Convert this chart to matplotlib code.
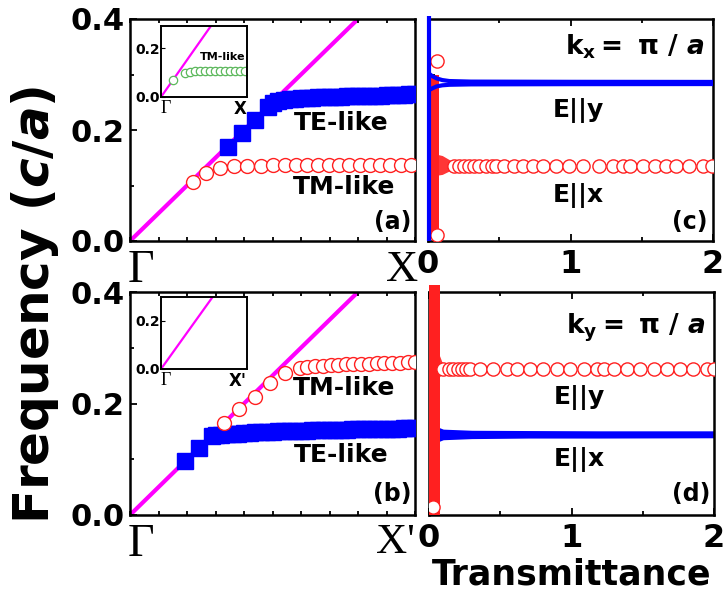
import matplotlib
matplotlib.use('Agg')
import matplotlib.pyplot as plt
from matplotlib.ticker import MultipleLocator, FixedLocator, NullFormatter

# ---- data ----
# band structures: k in units of 2pi/a (Gamma = 0, X = 0.5), f in c/a
light_k = [0.0, 0.5]
light_f = [0.0, 0.5]

a_tm_k = [0.110, 0.134, 0.158, 0.182, 0.206, 0.229, 0.251, 0.272, 0.292, 0.311,
          0.330, 0.349, 0.367, 0.385, 0.403, 0.421, 0.439, 0.457, 0.475, 0.493]
a_tm_f = [0.106, 0.123, 0.132, 0.135, 0.136, 0.136, 0.137, 0.137, 0.137, 0.137,
          0.137, 0.137, 0.137, 0.137, 0.137, 0.137, 0.137, 0.137, 0.137, 0.137]

a_te_k = [0.172, 0.196, 0.219, 0.242, 0.250, 0.260, 0.270, 0.280, 0.290, 0.300,
          0.310, 0.320, 0.330, 0.340, 0.350, 0.360, 0.370, 0.380, 0.390, 0.400,
          0.410, 0.420, 0.430, 0.440, 0.450, 0.460, 0.470, 0.480, 0.490, 0.500]
a_te_f = [0.169, 0.194, 0.218, 0.241, 0.249, 0.252, 0.254, 0.255, 0.256, 0.257,
          0.258, 0.258, 0.259, 0.259, 0.260, 0.260, 0.260, 0.261, 0.261, 0.261,
          0.262, 0.262, 0.262, 0.262, 0.263, 0.263, 0.263, 0.263, 0.264, 0.264]

ins_a_k = [0.072, 0.140, 0.169, 0.198, 0.227, 0.256, 0.285, 0.314, 0.343, 0.372,
           0.401, 0.430, 0.459, 0.488]
ins_a_f = [0.068, 0.100, 0.104, 0.106, 0.107, 0.107, 0.108, 0.108, 0.108, 0.108,
           0.108, 0.108, 0.108, 0.108]

b_te_k = [0.097, 0.121, 0.144, 0.150, 0.160, 0.170, 0.180, 0.190, 0.200, 0.210,
          0.220, 0.230, 0.240, 0.250, 0.260, 0.270, 0.280, 0.290, 0.300, 0.310,
          0.320, 0.330, 0.340, 0.350, 0.360, 0.370, 0.380, 0.390, 0.400, 0.410,
          0.420, 0.430, 0.440, 0.450, 0.460, 0.470, 0.480, 0.490, 0.500]
b_te_f = [0.096, 0.120, 0.142, 0.143, 0.144, 0.145, 0.146, 0.146, 0.147, 0.147,
          0.148, 0.148, 0.149, 0.149, 0.150, 0.150, 0.150, 0.151, 0.151, 0.151,
          0.152, 0.152, 0.152, 0.153, 0.153, 0.153, 0.153, 0.154, 0.154, 0.154,
          0.154, 0.155, 0.155, 0.155, 0.155, 0.155, 0.156, 0.156, 0.156]

b_tm_k = [0.165, 0.192, 0.219, 0.246, 0.272, 0.298, 0.311, 0.325, 0.338, 0.352,
          0.365, 0.379, 0.392, 0.406, 0.419, 0.433, 0.446, 0.460, 0.473, 0.487, 0.500]
b_tm_f = [0.165, 0.190, 0.212, 0.237, 0.255, 0.264, 0.266, 0.267, 0.268, 0.269,
          0.269, 0.270, 0.270, 0.271, 0.271, 0.272, 0.272, 0.273, 0.273, 0.274, 0.274]

# transmittance spectra (c): k_x = pi/a
c_y_vert_T = [0.010, 0.010]
c_y_vert_f = [0.0, 0.405]
c_y_T = [0.0, 0.03, 0.06, 0.10, 0.15, 0.30, 1.00, 2.00]
c_y_f_lo = [0.271, 0.275, 0.2785, 0.2805, 0.2815, 0.2822, 0.2826, 0.2828]
c_y_f_hi = [0.303, 0.297, 0.293, 0.2900, 0.2882, 0.2872, 0.2868, 0.2866]

c_x_band_f = [0.005, 0.300]
c_x_band_T = [0.0, 0.078]
c_x_fan_T = [0.0, 0.05, 0.10, 0.14, 0.18, 0.22]
c_x_fan_lo = [0.117, 0.118, 0.120, 0.125, 0.130, 0.134]
c_x_fan_hi = [0.158, 0.157, 0.154, 0.148, 0.142, 0.138]
c_x_T = [0.06, 0.06, 0.18, 0.22, 0.25, 0.29, 0.32, 0.36, 0.41, 0.45, 0.48, 0.53,
         0.60, 0.67, 0.74, 0.81, 0.90, 0.99, 1.09, 1.20, 1.30, 1.37, 1.42, 1.51,
         1.59, 1.67, 1.74, 1.83, 1.93, 1.99]
c_x_f = [0.325, 0.010] + [0.136] * 28

# transmittance spectra (d): k_y = pi/a
d_x_T = [0.06, 0.10, 0.30, 0.70, 1.20, 2.00]
d_x_f_lo = [0.131, 0.135, 0.137, 0.138, 0.138, 0.1385]
d_x_f_hi = [0.158, 0.154, 0.152, 0.1515, 0.151, 0.151]

d_y_band_f = [0.0, 0.412]
d_y_band_T = [0.0, 0.075]
d_y_fan_T = [0.06, 0.09, 0.13, 0.18, 0.24]
d_y_fan_lo = [0.245, 0.252, 0.256, 0.259, 0.261]
d_y_fan_hi = [0.295, 0.275, 0.268, 0.265, 0.263]
d_y_T = [0.03, 0.10, 0.14, 0.17, 0.20, 0.23, 0.26, 0.29, 0.36, 0.45, 0.55, 0.62,
         0.71, 0.80, 0.90, 0.99, 1.09, 1.18, 1.23, 1.30, 1.39, 1.48, 1.58, 1.67,
         1.76, 1.85, 1.95, 2.00]
d_y_f = [0.015] + [0.262] * 27

# ---- style ----
plt.rcParams['font.family'] = ['DejaVu Sans']
plt.rcParams['font.weight'] = 'bold'
plt.rcParams['mathtext.fontset'] = 'custom'
plt.rcParams['mathtext.rm'] = 'DejaVu Sans:bold'
plt.rcParams['mathtext.bf'] = 'DejaVu Sans:bold'
plt.rcParams['mathtext.it'] = 'DejaVu Sans:italic:bold'

MAG = '#ff00ff'
BLUE = '#0000ff'
RED = '#ff2020'

fig = plt.figure(figsize=(7.28, 6.06), dpi=100)
W, H = 728.0, 606.0

ax_a = fig.add_axes([130 / W, 1 - 241 / H, 285 / W, 222 / H])
ax_c = fig.add_axes([428 / W, 1 - 241 / H, 285 / W, 222 / H])
ax_b = fig.add_axes([130 / W, 1 - 515 / H, 285 / W, 223 / H])
ax_d = fig.add_axes([429 / W, 1 - 515 / H, 285 / W, 223 / H])


def frame(ax):
    for s in ax.spines.values():
        s.set_linewidth(1.8)
    ax.tick_params(which='both', direction='in', top=True, right=False,
                   width=1.3)
    ax.tick_params(which='major', length=5)
    ax.tick_params(which='minor', length=3)
    ax.set_ylim(0, 0.4)


# band panels
for ax in (ax_a, ax_b):
    frame(ax)
    ax.set_xlim(0, 0.5)
    ax.xaxis.set_major_locator(FixedLocator([]))
    ax.xaxis.set_minor_locator(MultipleLocator(0.05))
    ax.yaxis.set_major_locator(FixedLocator([0.0, 0.2, 0.4]))
    ax.yaxis.set_minor_locator(FixedLocator([0.1, 0.3]))
    ax.set_yticklabels(['0.0', '0.2', '0.4'], fontsize=22, fontweight='bold')
    ax.tick_params(axis='y', pad=4)
    ax.plot(light_k, light_f, color=MAG, lw=3, zorder=1)

ax_a.plot(a_te_k, a_te_f, ls='none', marker='s', ms=11, color=BLUE, mec=BLUE, zorder=3)
ax_a.plot(a_tm_k, a_tm_f, ls='none', marker='o', ms=10, mfc='white', mec=RED, mew=1.0, zorder=4)
ax_b.plot(b_te_k, b_te_f, ls='none', marker='s', ms=11, color=BLUE, mec=BLUE, zorder=3)
ax_b.plot(b_tm_k, b_tm_f, ls='none', marker='o', ms=10, mfc='white', mec=RED, mew=1.0, zorder=4)

ax_a.text(0.74, 0.53, 'TE-like', transform=ax_a.transAxes, ha='center', va='center', fontsize=18)
ax_a.text(0.75, 0.245, 'TM-like', transform=ax_a.transAxes, ha='center', va='center', fontsize=18)
ax_a.text(0.92, 0.085, '(a)', transform=ax_a.transAxes, ha='center', va='center', fontsize=17)
ax_b.text(0.75, 0.57, 'TM-like', transform=ax_b.transAxes, ha='center', va='center', fontsize=18)
ax_b.text(0.74, 0.27, 'TE-like', transform=ax_b.transAxes, ha='center', va='center', fontsize=18)
ax_b.text(0.92, 0.094, '(b)', transform=ax_b.transAxes, ha='center', va='center', fontsize=17)

# k-point labels
serif = ['Liberation Serif', 'DejaVu Serif']
ax_a.text(-0.01, -0.04, 'Γ', transform=ax_a.transAxes, ha='left', va='top',
          fontsize=33, family=serif, fontweight='normal')
ax_a.text(1.01, -0.04, 'X', transform=ax_a.transAxes, ha='right', va='top',
          fontsize=32, family=serif, fontweight='normal')
ax_b.text(-0.01, -0.04, 'Γ', transform=ax_b.transAxes, ha='left', va='top',
          fontsize=33, family=serif, fontweight='normal')
ax_b.text(1.0, -0.04, "X'", transform=ax_b.transAxes, ha='right', va='top',
          fontsize=31, family=serif, fontweight='normal')

# insets
ins_a = fig.add_axes([161 / W, 1 - 97 / H, 86 / W, 71 / H])
ins_b = fig.add_axes([161 / W, 1 - 369 / H, 86 / W, 72 / H])
for ins, top, lab in ((ins_a, 0.29, 'X'), (ins_b, 0.30, "X'")):
    for s in ins.spines.values():
        s.set_linewidth(1.4)
    ins.set_xlim(0, 0.5)
    ins.set_ylim(0, top)
    ins.set_xticks([])
    ins.set_yticks([0.0, 0.2])
    ins.set_yticklabels(['0.0', '0.2'], fontsize=10, fontweight='bold')
    ins.tick_params(axis='y', direction='in', length=3, pad=1)
    ins.plot(light_k, light_f, color=MAG, lw=1.6)
    ins.text(0.0, -0.04, 'Γ', transform=ins.transAxes, ha='left', va='top',
             fontsize=13, family=serif, fontweight='normal')
    ins.text(1.0, -0.04, lab, transform=ins.transAxes, ha='right', va='top',
             fontsize=12, fontweight='bold')
ins_a.plot(ins_a_k, ins_a_f, ls='none', marker='o', ms=6, mfc='white', mec='#5cb85c', mew=0.9)
ins_a.text(0.36, 0.165, 'TM-like', ha='center', va='center', fontsize=8)

# transmittance panels
for ax in (ax_c, ax_d):
    frame(ax)
    ax.set_xlim(0, 2)
    ax.xaxis.set_major_locator(FixedLocator([0, 1, 2]))
    ax.xaxis.set_minor_locator(FixedLocator([0.5, 1.5]))
    ax.set_xticklabels(['0', '1', '2'], fontsize=23, fontweight='bold')
    ax.tick_params(axis='x', pad=6)
    ax.yaxis.set_major_locator(FixedLocator([0.1, 0.2, 0.3]))
    ax.yaxis.set_major_formatter(NullFormatter())

# (c)
ax_c.fill_betweenx(c_x_band_f, c_x_band_T[0], c_x_band_T[1], color=RED, lw=0, zorder=2)
ax_c.fill_between(c_x_fan_T, c_x_fan_lo, c_x_fan_hi, color=RED, lw=0, alpha=0.9, zorder=2)
ax_c.plot(c_x_T, c_x_f, ls='none', marker='o', ms=9.5, mfc='white', mec=RED, mew=1.0, zorder=3)
ax_c.plot(c_y_vert_T, c_y_vert_f, color=BLUE, lw=3.0, zorder=5, clip_on=False, solid_capstyle='butt')
ax_c.plot(c_y_T, c_y_f_lo, color=BLUE, lw=3, zorder=4)
ax_c.plot(c_y_T, c_y_f_hi, color=BLUE, lw=3, zorder=4)
ax_c.text(0.972, 0.875, r'$\mathrm{k_x{=}\ \pi\ /\ }\mathit{a}$', transform=ax_c.transAxes,
          ha='right', va='center', fontsize=19)
ax_c.text(0.526, 0.59, 'E||y', transform=ax_c.transAxes, ha='center', va='center', fontsize=18)
ax_c.text(0.526, 0.207, 'E||x', transform=ax_c.transAxes, ha='center', va='center', fontsize=18)
ax_c.text(0.92, 0.085, '(c)', transform=ax_c.transAxes, ha='center', va='center', fontsize=17)

# (d)
ax_d.fill_between(d_x_T, d_x_f_lo, d_x_f_hi, color=BLUE, lw=0, zorder=2)
ax_d.fill_betweenx(d_y_band_f, d_y_band_T[0], d_y_band_T[1], color=RED, lw=0, zorder=3, clip_on=False)
ax_d.fill_between(d_y_fan_T, d_y_fan_lo, d_y_fan_hi, color=RED, lw=0, alpha=0.9, zorder=3)
ax_d.plot(d_y_T, d_y_f, ls='none', marker='o', ms=9.5, mfc='white', mec=RED, mew=1.0, zorder=4)
ax_d.text(0.972, 0.84, r'$\mathrm{k_y{=}\ \pi\ /\ }\mathit{a}$', transform=ax_d.transAxes,
          ha='right', va='center', fontsize=19)
ax_d.text(0.526, 0.529, 'E||y', transform=ax_d.transAxes, ha='center', va='center', fontsize=18)
ax_d.text(0.526, 0.247, 'E||x', transform=ax_d.transAxes, ha='center', va='center', fontsize=18)
ax_d.text(0.92, 0.094, '(d)', transform=ax_d.transAxes, ha='center', va='center', fontsize=17)
ax_d.set_xlabel('Transmittance', fontsize=25, fontweight='bold', labelpad=2)

fig.text(35 / W, 1 - 305 / H, r'Frequency ($\mathit{c/a}$)', rotation=90,
         ha='center', va='center', fontsize=36, fontweight='bold')

fig.savefig('out.png', dpi=100)
